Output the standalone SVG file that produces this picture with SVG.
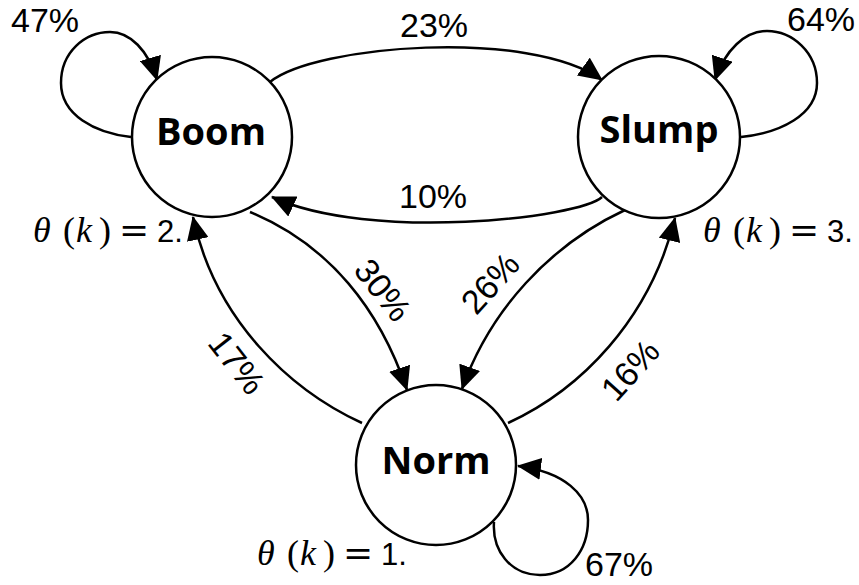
<svg xmlns="http://www.w3.org/2000/svg" width="859" height="585" viewBox="0 0 859 585">
<style>
.node{fill:#fff;stroke:#000;stroke-width:2.5}
.name{font-family:"Open Sans","Liberation Sans",sans-serif;font-weight:bold;font-size:38px;text-anchor:middle;fill:#000}
.lbl{font-family:"Liberation Sans",Arial,sans-serif;font-size:34px;text-anchor:middle;fill:#000}
.edge{fill:none;stroke:#000;stroke-width:2.5;marker-end:url(#ah)}
.m{font-family:"Liberation Serif",serif;font-size:36px;fill:#000}
.mi{font-style:italic}
.eq{font-family:"DejaVu Serif",serif;font-size:36px}
.ms{font-family:"Liberation Sans",Arial,sans-serif;font-size:31px}
</style>
<defs>
<marker id="ah" markerUnits="userSpaceOnUse" markerWidth="25" markerHeight="22" refX="23" refY="11" orient="auto">
<path d="M0,0 L24,11 L0,22 z" fill="#000"/>
</marker>
</defs>
<rect width="859" height="585" fill="#fff"/>
<g id="connectors">
<path class="edge" d="M131,137 C95,133 61,115 61,83 C61,52 85,32 110,32 C130,32 148,50 157,80"/>
<path class="edge" d="M741,137 C780,133 817,115 817,83 C817,52 792,31 767,31 C745,31 725,50 715,80"/>
<path class="edge" d="M494,522 C492,550 510,575 540,575 C570,575 588,550 588,520 C588,495 565,472 518,466"/>
<path class="edge" d="M270,82 C315,45 530,28 602,80"/>
<path class="edge" d="M602,197 C580,218 370,242 272,197"/>
<path class="edge" d="M250,212 C330,245 380,310 407,390"/>
<path class="edge" d="M362,423 C290,390 215,320 193,217"/>
<path class="edge" d="M625,210 C550,245 490,310 462,389"/>
<path class="edge" d="M508,423 C580,390 650,320 675,218"/>
<text class="lbl" x="45" y="32">47%</text>
<text class="lbl" x="434" y="37">23%</text>
<text class="lbl" x="821" y="31">64%</text>
<text class="lbl" x="433" y="208">10%</text>
<text class="lbl" x="619" y="576">67%</text>
<text class="lbl" transform="translate(383,290) rotate(52)" x="0" y="12">30%</text>
<text class="lbl" transform="translate(237,363) rotate(52)" x="0" y="12">17%</text>
<text class="lbl" transform="translate(490,283) rotate(-48)" x="0" y="12">26%</text>
<text class="lbl" transform="translate(630,370) rotate(-48)" x="0" y="12">16%</text>
</g>
<g id="boom">
<circle class="node" cx="212" cy="137" r="80"/>
<text class="name" x="211" y="145">Boom</text>
<text class="m" transform="translate(33,242)"><tspan class="mi" x="0">θ</tspan><tspan x="30">(</tspan><tspan class="mi" x="43">k</tspan><tspan x="66">)</tspan><tspan class="eq" x="86">=</tspan><tspan class="ms" x="124">2.</tspan></text>
</g>
<g id="slump">
<circle class="node" cx="659" cy="137" r="81"/>
<text class="name" x="659" y="143">Slump</text>
<text class="m" transform="translate(703,242)"><tspan class="mi" x="0">θ</tspan><tspan x="30">(</tspan><tspan class="mi" x="43">k</tspan><tspan x="66">)</tspan><tspan class="eq" x="86">=</tspan><tspan class="ms" x="124">3.</tspan></text>
</g>
<g id="norm">
<circle class="node" cx="436" cy="465" r="80"/>
<text class="name" x="436" y="474">Norm</text>
<text class="m" transform="translate(257,565)"><tspan class="mi" x="0">θ</tspan><tspan x="30">(</tspan><tspan class="mi" x="43">k</tspan><tspan x="66">)</tspan><tspan class="eq" x="86">=</tspan><tspan class="ms" x="124">1.</tspan></text>
</g>
</svg>
